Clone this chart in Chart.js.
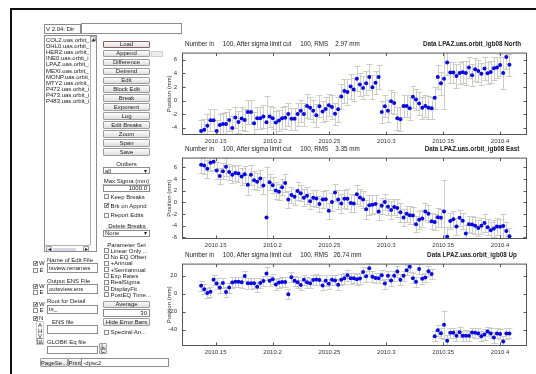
<!DOCTYPE html>
<html>
<head>
<meta charset="utf-8">
<script src="https://cdn.jsdelivr.net/npm/chart.js@4.4.0/dist/chart.umd.min.js"></script>
<style>
body { margin: 0; width: 536px; height: 374px; overflow: hidden; background: #fff; position: relative;
       font-family: "Liberation Sans", Arial, sans-serif; font-size: 6px; color: #222; }
.a { position: absolute; box-sizing: border-box; white-space: pre; overflow: hidden; line-height: 1; }
.btn { border: 1px solid #9c9c9c; background: linear-gradient(#fcfcfc, #dedede); display: flex;
       align-items: center; justify-content: center; border-radius: 1px; }
.fld { border: 1px solid #8c8c8c; background: #fff; padding-left: 1px; display: flex; align-items: center; }
.right { justify-content: flex-end; padding-right: 2px; }
.cb { border: 1px solid #8c8c8c; background: #fff; font-size: 5px; display: flex; align-items: center; justify-content: center; }
.lbl { text-align: center; }
.grv { border-bottom: 1px solid #c4c4c4; }
canvas { position: absolute; }
.hdr { position: absolute; white-space: pre; font-size: 6.3px; line-height: 1; }
</style>
</head>
<body>
<canvas id="north" width="372" height="104" style="left:164px;top:44px"></canvas>
<canvas id="east" width="372" height="103" style="left:164px;top:149px"></canvas>
<canvas id="up" width="372" height="104" style="left:164px;top:255px"></canvas>
<script>
// LPAZ daily positions, 100 days starting 2010.137
const t0 = 2010.1372;
const day = 1 / 365.25;

const xTicks = [2010.15, 2010.2, 2010.25, 2010.3, 2010.35, 2010.4];
const xTickLabels = ['2010.15', '2010.2', '2010.25', '2010.3', '2010.35', '2010.4'];

const northVals = [
    -4.5, -4.3, -3.7, -2.9, -2.9, -4.5, -3.6, -3.45, -3.45, -2.85,
    -4.05, -2.5, -3.15, -2.65, -2.85, -1.7, -1.7, -3.35, -2.6, -2.6,
    -2.35, -3.2, -2.35, -2.6, -3.25, -2.95, -2.6, -2.55, -2.0, -2.7,
    -2.7, -2.0, -1.5, -2.0, -0.8, -1.05, -1.5, -2.15, -0.85, -1.6,
    -1.25, -0.7, -0.95, -1.95, -1.3, 0.6, 1.4, 1.25, 2.05, 1.6,
    3.2, 2.35, 1.85, 2.55, 3.45, 1.95, 2.6, 3.45, -1.7, -0.85,
    -1.5, -0.1, -0.35, -2.6, -2.75, -0.8, -0.8, -1.15, 0.55, 0.15,
    -0.45, -1.05, -0.8, -1.05, -1.15, 0.4, 3.45, 2.55, 3.2, 5.6,
    4.1, 4.1, 3.6, 4.05, 4.15, 4.05, 4.85, 3.7, 4.6, 4.35,
    3.95, 4.7, 4.0, 4.2, 4.75, 4.85, 5.2, 4.05, 6.4, 5.25
];
const northSig = [
    1.6, 1.6, 1.7, 1.6, 1.6, 1.7, 1.6, 1.6, 1.7, 1.6,
    1.7, 1.6, 1.6, 1.7, 1.6, 1.8, 1.8, 1.7, 1.6, 1.6,
    1.7, 3.9, 1.6, 1.6, 1.7, 1.6, 1.6, 1.7, 1.7, 1.6,
    1.6, 1.7, 1.6, 1.7, 1.7, 1.6, 1.6, 1.7, 1.6, 1.6,
    1.7, 1.6, 1.7, 1.6, 1.8, 1.8, 1.8, 1.9, 1.8, 1.7,
    1.8, 1.7, 1.7, 1.8, 1.9, 1.8, 1.7, 1.7, 1.6, 1.6,
    1.6, 1.7, 1.6, 1.7, 1.8, 1.6, 1.6, 1.7, 1.6, 1.6,
    1.7, 1.6, 1.6, 1.7, 1.6, 1.6, 1.8, 1.7, 4.5, 1.8,
    1.6, 1.6, 1.7, 1.6, 1.6, 1.7, 1.6, 1.6, 1.7, 1.6,
    1.6, 1.7, 1.6, 1.6, 1.7, 1.6, 1.6, 2.3, 1.7, 1.6
];

const eastVals = [
    6.45, 6.3, 5.75, 6.8, 6.95, 5.45, 4.5, 5.35, 6.1, 5.2,
    4.75, 5.05, 4.95, 4.45, 4.8, 3.0, 4.75, 3.8, 3.55, 4.1,
    2.9, -2.6, 3.45, 2.95, 2.05, 1.8, 2.6, 3.3, 0.5, 1.25,
    0.95, 1.95, 1.55, 0.8, 1.15, 0.2, 0.8, 0.65, -0.3, 0.5,
    0.55, -1.45, 0.05, 1.7, 0.5, -0.2, 0.6, 0.6, -0.1, -0.2,
    1.4, 0.85, 0.5, -1.2, -0.5, -0.4, -0.3, -1.55, -0.6, 0.05,
    -0.75, -1.3, -0.8, -0.95, -1.7, -2.6, -1.95, -2.2, -2.25, -3.75,
    -3.0, -2.75, -1.55, -1.95, -3.25, -3.35, -2.55, -2.65, -1.55, -5.9,
    -3.2, -2.9, -4.15, -2.65, -3.15, -5.35, -3.75, -3.8, -4.0, -4.4,
    -4.0, -3.55, -4.25, -4.8, -4.5, -4.15, -4.2, -4.05, -4.9, -5.8
];
const eastSig = [
    1.4, 1.4, 1.5, 1.4, 1.4, 1.5, 1.4, 1.4, 1.5, 1.4,
    1.5, 1.4, 1.4, 1.5, 1.4, 1.7, 1.7, 1.5, 1.4, 1.4,
    1.5, 8.6, 1.4, 1.4, 1.5, 1.4, 1.4, 1.5, 1.5, 1.4,
    1.4, 1.5, 1.4, 1.5, 1.5, 1.4, 1.4, 1.5, 1.4, 1.4,
    1.5, 1.4, 1.5, 1.4, 1.6, 1.6, 1.6, 1.7, 1.6, 1.5,
    1.6, 1.5, 1.5, 1.6, 1.7, 1.6, 1.5, 1.5, 1.4, 1.4,
    1.4, 1.5, 1.4, 1.5, 1.6, 1.4, 1.4, 1.5, 1.4, 1.4,
    1.5, 1.4, 1.4, 1.5, 1.4, 1.4, 1.6, 1.5, 5.4, 1.6,
    1.4, 1.4, 1.5, 1.4, 1.4, 1.5, 1.4, 1.4, 1.5, 1.4,
    1.4, 1.5, 1.4, 1.4, 1.5, 1.4, 1.4, 2.0, 1.5, 1.4
];

const upVals = [
    8.8, 4.9, 0.7, 2.1, 15.4, 11.2, 6.7, 11.9, 1.8, 6.7,
    12.3, 13.3, 13.3, 12.6, 19.6, 11.6, 11.6, 11.6, 7.7, 11.9,
    14.0, 22.5, 14.4, 16.1, 10.2, 12.3, 13.0, 13.0, -0.7, 18.2,
    14.4, 12.6, 9.5, 15.4, 12.6, 11.6, 15.1, 15.8, 15.1, 9.1,
    14.4, 10.9, 15.4, 14.7, 9.8, 15.4, 17.2, 20.4, 17.2, 17.2,
    16.1, 16.8, 24.2, 19.3, 28.1, 18.9, 17.5, 17.2, 20.4, 11.2,
    20.0, 14.7, 20.0, 24.6, 15.4, 20.0, 26.0, 29.8, 17.2, 13.3,
    27.4, 16.5, 17.9, 24.9, 21.8, -47.4, -40.7, -43.9, -34.7, -52.3,
    -43.5, -43.5, -46.7, -42.8, -46.7, -46.7, -46.7, -43.2, -43.5, -44.2,
    -47.4, -45.3, -42.1, -44.2, -48.8, -44.2, -44.9, -53.3, -44.2, -44.2
];
const upSig = [
    5.5, 5.5, 5.8, 5.5, 5.6, 5.8, 5.5, 5.5, 5.8, 5.5,
    5.8, 5.5, 5.5, 5.8, 5.5, 6.0, 6.0, 5.8, 5.5, 5.5,
    5.8, 7.5, 5.5, 5.5, 5.8, 5.5, 5.5, 5.8, 5.8, 5.5,
    5.5, 5.8, 5.5, 5.8, 5.8, 5.5, 5.5, 5.8, 5.5, 5.5,
    5.8, 5.5, 5.8, 5.5, 6.0, 6.0, 6.0, 6.2, 6.0, 5.8,
    6.0, 5.8, 5.8, 6.0, 6.2, 6.0, 5.8, 5.8, 5.5, 5.5,
    5.5, 5.8, 5.5, 5.8, 6.0, 5.5, 5.5, 5.8, 5.5, 5.5,
    5.8, 5.5, 5.5, 5.8, 5.5, 5.5, 6.0, 5.8, 15.5, 6.0,
    5.5, 5.5, 5.8, 5.5, 5.5, 5.8, 5.5, 5.5, 5.8, 5.5,
    5.5, 5.8, 5.5, 5.5, 5.8, 5.5, 5.5, 6.5, 5.8, 5.5
];

const northTicks = [-4, -2, 0, 2, 4, 6];
const eastTicks = [-6, -4, -2, 0, 2, 4, 6];
const upTicks = [-40, -20, 0, 20];

const site = 'Data LPAZ.uas.orbit_igb08';
const rmsText = ['2.97', '3.35', '26.74'];
const compNames = ['North', 'East', 'Up'];

const tickFont = { family: 'Liberation Sans', size: 6 };

// error bars, frame and inward ticks (Matlab look)
const tsDecor = {
    id: 'tsDecor',
    beforeDatasetsDraw(chart) {
        const { ctx, chartArea: a, scales: { x, y } } = chart;
        const ds = chart.data.datasets[0];
        ctx.save();
        ctx.beginPath();
        ctx.rect(a.left, a.top, a.right - a.left, a.bottom - a.top);
        ctx.clip();
        ctx.strokeStyle = '#cdcdc8';
        ctx.lineWidth = 1;
        ctx.beginPath();
        ds.data.forEach((p, i) => {
            const px = Math.round(x.getPixelForValue(p.x)) + 0.5;
            const hi = Math.round(y.getPixelForValue(p.y + ds.sigma[i])) + 0.5;
            const lo = Math.round(y.getPixelForValue(p.y - ds.sigma[i])) + 0.5;
            ctx.moveTo(px, hi); ctx.lineTo(px, lo);
            ctx.moveTo(px - 3, hi); ctx.lineTo(px + 3, hi);
            ctx.moveTo(px - 3, lo); ctx.lineTo(px + 3, lo);
        });
        ctx.stroke();
        ctx.restore();
    },
    afterDraw(chart) {
        const { ctx, chartArea: a, scales: { x, y } } = chart;
        const l = a.left + 0.5, r = a.right - 0.5, t = a.top + 0.5, b = a.bottom - 0.5;
        ctx.save();
        ctx.strokeStyle = '#555';
        ctx.lineWidth = 1;
        ctx.strokeRect(l, t, r - l, b - t);
        ctx.beginPath();
        x.ticks.forEach(tk => {
            const px = Math.round(x.getPixelForValue(tk.value)) + 0.5;
            ctx.moveTo(px, b); ctx.lineTo(px, b - 3);
            ctx.moveTo(px, t); ctx.lineTo(px, t + 3);
        });
        y.ticks.forEach(tk => {
            const py = Math.round(y.getPixelForValue(tk.value)) + 0.5;
            ctx.moveTo(l, py); ctx.lineTo(l + 3, py);
            ctx.moveTo(r, py); ctx.lineTo(r - 3, py);
        });
        ctx.stroke();
        ctx.restore();
    },
};

function makePlot(id, vals, sig, yMin, yMax, yTicks) {
    const data = vals.map((v, i) => ({ x: t0 + i * day, y: v }));
    new Chart(document.getElementById(id), {
        type: 'scatter',
        data: {
            datasets: [{
                data,
                sigma: sig,
                backgroundColor: '#0808e0',
                borderWidth: 0,
                pointRadius: 2,
            }],
        },
        options: {
            responsive: false,
            animation: false,
            layout: { padding: { top: 4, right: 9, left: 0, bottom: 0 } },
            plugins: { legend: { display: false }, tooltip: { enabled: false } },
            scales: {
                x: {
                    type: 'linear',
                    min: 2010.1204,
                    max: 2010.4237,
                    grid: { display: false, drawTicks: false },
                    border: { display: false },
                    afterBuildTicks: s => { s.ticks = xTicks.map(v => ({ value: v })); },
                    afterFit: s => { s.height = 13; },
                    ticks: {
                        font: tickFont, color: '#333', padding: 3, maxRotation: 0, autoSkip: false,
                        callback: v => xTickLabels[xTicks.indexOf(v)],
                    },
                },
                y: {
                    min: yMin,
                    max: yMax,
                    grid: { display: false, drawTicks: false },
                    border: { display: false },
                    afterBuildTicks: s => { s.ticks = yTicks.map(v => ({ value: v })); },
                    afterFit: s => { s.width = 18; },
                    ticks: { font: tickFont, color: '#333', padding: 5, autoSkip: false },
                    title: { display: true, text: 'Position (mm)', font: tickFont, color: '#333', padding: { top: 1.5, bottom: 0 } },
                },
            },
        },
        plugins: [tsDecor],
    });
}

makePlot('north', northVals, northSig, -5.07, 7.04, northTicks);
makePlot('east', eastVals, eastSig, -6.28, 7.67, eastTicks);
makePlot('up', upVals, upSig, -58.2, 33.4, upTicks);

// plot headers
[41, 146, 251.5].forEach((top, i) => {
    const h = document.createElement('div');
    h.className = 'hdr';
    h.style.cssText = `left:185px;top:${top}px`;
    h.textContent = 'Number in     100, After sigma limit cut     100, RMS  ' + rmsText[i].padStart(6) + ' mm';
    document.body.appendChild(h);
    const d = document.createElement('div');
    d.className = 'hdr';
    d.style.cssText = `left:372px;width:200px;text-align:center;font-weight:bold;top:${top}px`;
    d.textContent = site + ' ' + compNames[i];
    document.body.appendChild(d);
});

// --- tsview control panel ---
function put(cls, x, y, w, h, txt) {
    const d = document.createElement('div');
    d.className = 'a ' + cls;
    d.style.cssText = `left:${x}px;top:${y}px;width:${w}px;height:${h}px`;
    if (txt) d.textContent = txt;
    document.body.appendChild(d);
    return d;
}
function check(x, y, label, on) {
    put('cb', x, y, 5, 5, on ? '✔' : '');
    if (label) put('', x + 6.5, y - 0.3, 46, 6, label);
}

const frame = put('', 10, 8, 526, 366);
frame.style.borderLeft = '2px solid #111';
frame.style.borderTop = '2px solid #111';

put('fld', 44, 24, 37, 10, 'V 2.04: Dir');
put('fld', 81, 23, 101, 11);

put('fld', 44, 35, 53, 217);
const files = ['COL2', 'DHL0', 'HER2', 'INE0', 'LPAZ', 'MEXI', 'MONP', 'MTY2', 'P472', 'P473', 'P483'];
files.forEach((f, i) => put('', 46, 37 + i * 6.1, 43, 6, f + '.uas.orbit_igb08'));
const vs = put('', 89.5, 36, 7, 209);
vs.style.borderLeft = '1px solid #b0b0b0';
put('btn', 90, 36, 6, 6, '▴');
put('btn', 46, 246, 6, 6, '◂');
put('', 53, 247.5, 23, 3.5).style.background = '#d6d6e4';
put('btn', 83, 246, 6, 6, '▸');
const hs = put('', 45, 245, 45, 7);
hs.style.borderTop = '1px solid #b0b0b0';

const buttons = ['Load', 'Append', 'Difference', 'Detrend', 'Edit', 'Block Edit', 'Break',
    'Exponent', 'Log', 'Edit Breaks', 'Zoom', 'Span', 'Save'];
buttons.forEach((b, i) => {
    const e = put('btn', 103, 40.7 + i * 8.95, 47, 7.6, b);
    if (i === 0) e.style.borderColor = '#8a5a66';
});
const ap = put('', 151, 51, 12, 6);
ap.style.cssText += ';background:#ececec;border:1px solid #d0d0d0';

put('lbl grv', 110, 161, 33, 6.5, 'Outliers');
put('fld', 103, 167, 47, 7.2, 'all');
put('', 144, 167.5, 5, 6, '▾');
put('lbl grv', 102, 178, 49, 6.5, 'Max Sigma (mm)');
put('fld right', 103, 184.5, 47, 7.5, '1000.0');
check(104, 194.3, 'Keep Breaks', false);
check(104, 203.2, 'Brk on Appnd', true);
check(104, 212.5, 'Report Edits', false);
put('lbl grv', 106, 222.5, 42, 6.5, 'Delete Breaks');
put('fld', 103, 229.5, 47, 7, 'None');
put('', 144, 230, 5, 6, '▾');
put('lbl', 104, 241.5, 45, 6, 'Parameter Set');
['Linear Only ...', 'No EQ Offset', '+Annual', '+Semiannual', 'Exp Rates', 'RealSigma', 'DisplayFit', 'PostEQ Time...']
    .forEach((p, i) => check(104, 248 + i * 6.35, p, false));
put('btn', 103, 300.5, 47, 7.8, 'Average');
put('fld right', 103, 308.8, 47, 8, '30');
put('btn', 103, 318.2, 47, 8, 'Hide Error Bars');
check(104, 329.5, 'Spectral An...', false);

// edit/output files
check(33.3, 260.6, '', true); put('', 39, 260.2, 6, 6, 'W');
check(33.3, 267.5, '', false); put('', 39.5, 267, 6, 6, 'E');
put('', 47, 256.5, 52, 6, 'Name of Edit File');
put('fld', 47, 263, 51, 9.5, 'tsview.renames');

put('', 47, 277.5, 52, 6, 'Output ENS File');
check(33.3, 283.6, '', true); put('', 39, 283.2, 6, 6, 'W');
check(33.3, 289.6, '', false); put('', 39.5, 289.2, 6, 6, 'E');
put('fld', 47, 284, 51, 9.5, 'outsview.ens');

put('', 47, 297.8, 52, 6, 'Root for Detail');
check(33.3, 301.8, '', true); put('', 39, 301.4, 6, 6, 'W');
check(33.3, 307.8, '', false); put('', 39.5, 307.4, 6, 6, 'E');
put('fld', 47, 304.5, 51, 9, 'ts_');

check(33.3, 315.8, '', true); put('', 39, 315.4, 6, 6, 'N');
put('', 52, 318.5, 40, 6, 'ENS file');
['A', 'H', 'V'].forEach((c, i) => put('', 38, 322 + i * 5.6, 5, 6, c));
const wb = put('', 36.5, 338.3, 7, 6, 'W');
wb.style.border = '1px solid #8c8c8c';
wb.style.paddingLeft = '1px';
const av = put('', 36, 320.5, 8, 24);
av.style.border = '1px solid #c8c8c8';
put('fld', 47, 324.5, 51, 9);

put('', 47, 338.5, 52, 6, 'GLOBK Eq file');
put('fld', 47, 345.7, 51, 8.8);
put('btn', 99, 342.5, 8, 6, 'L');
put('btn', 99, 348.6, 8, 5.5, 'C');

put('btn', 40, 358.3, 28, 8.7, 'PageSe...');
put('btn', 68, 358.3, 13.5, 8.7, 'Print');
put('fld', 81.3, 358.3, 88, 8.7, '-dpsc2');
</script>
</body>
</html>
